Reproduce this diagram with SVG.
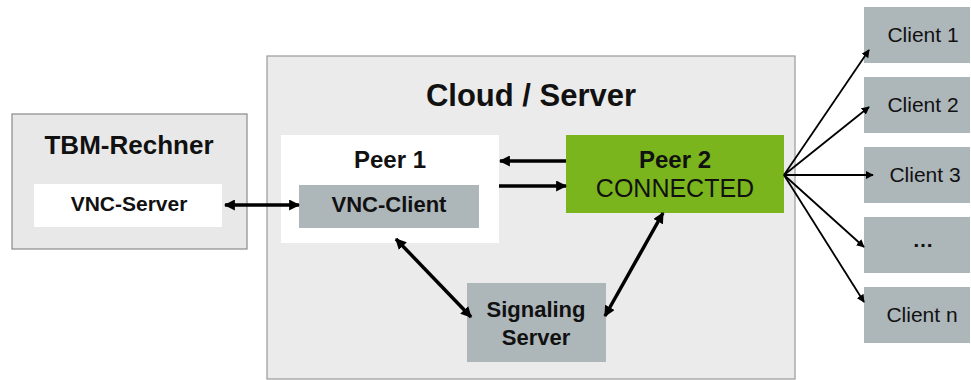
<svg xmlns="http://www.w3.org/2000/svg" width="971" height="380" viewBox="0 0 971 380">
<style>
text{font-family:"Liberation Sans",Arial,sans-serif;fill:#111;text-anchor:middle}
.b{font-weight:bold}
.gray{fill:#adb6b9}
.thick{stroke:#000;stroke-width:3.5;fill:none}
.thin{stroke:#000;stroke-width:1.8;fill:none}
.cl{font-size:21px}
</style>
<defs>
<marker id="ah" viewBox="0 0 10 10" refX="9" refY="5" markerWidth="11" markerHeight="11" markerUnits="userSpaceOnUse" orient="auto-start-reverse"><path d="M0,0L10,5L0,10z" fill="#000"/></marker>
<marker id="as" viewBox="0 0 10 10" refX="9" refY="5" markerWidth="8" markerHeight="8" markerUnits="userSpaceOnUse" orient="auto"><path d="M0,0L10,5L0,10z" fill="#000"/></marker>
</defs>
<g id="tbm">
<rect x="12" y="114" width="235" height="135" fill="#e8e8e8" stroke="#8a8a8a" stroke-width="1.2"/>
<text x="129" y="154" class="b" font-size="26">TBM-Rechner</text>
</g>
<g id="vnc-server">
<rect x="34" y="184" width="188" height="43" fill="#fff"/>
<text x="129" y="211" class="b" font-size="21">VNC-Server</text>
</g>
<g id="cloud">
<rect x="267" y="56" width="528" height="323" fill="#ebebeb" stroke="#999" stroke-width="1.2"/>
<text x="531" y="106" class="b" font-size="31">Cloud / Server</text>
</g>
<g id="peer1">
<rect x="281" y="135" width="218" height="108" fill="#fff"/>
<text x="390" y="168" class="b" font-size="24">Peer 1</text>
</g>
<g id="vnc-client">
<rect x="299" y="185" width="180" height="43" class="gray"/>
<text x="389" y="212" class="b" font-size="22">VNC-Client</text>
</g>
<g id="peer2">
<rect x="566" y="135" width="218" height="78" fill="#7ab51d"/>
<text x="675" y="168" class="b" font-size="24">Peer 2</text>
<text x="675" y="197" font-size="25">CONNECTED</text>
</g>
<g id="signaling">
<rect x="467" y="283" width="139" height="79" class="gray"/>
<text x="536" y="317" class="b" font-size="22">Signaling</text>
<text x="536" y="345" class="b" font-size="22">Server</text>
</g>
<g id="client1"><rect x="864" y="7" width="106" height="56" class="gray"/><text x="923" y="42" class="cl">Client 1</text></g>
<g id="client2"><rect x="864" y="77" width="106" height="56" class="gray"/><text x="923" y="112" class="cl">Client 2</text></g>
<g id="client3"><rect x="864" y="147" width="106" height="56" class="gray"/><text x="925" y="182" class="cl">Client 3</text></g>
<g id="clientdots"><rect x="864" y="217" width="106" height="56" class="gray"/><text x="923" y="247" class="cl b">…</text></g>
<g id="clientn"><rect x="864" y="287" width="106" height="56" class="gray"/><text x="922" y="322" class="cl">Client n</text></g>
<g id="connectors">
<line x1="225" y1="205" x2="299" y2="205" class="thick" marker-start="url(#ah)" marker-end="url(#ah)"/>
<line x1="566" y1="161" x2="500" y2="161" class="thick" marker-end="url(#ah)"/>
<line x1="499" y1="186" x2="566" y2="186" class="thick" marker-end="url(#ah)"/>
<line x1="396" y1="239" x2="471" y2="317" class="thick" marker-start="url(#ah)" marker-end="url(#ah)"/>
<line x1="663" y1="213" x2="605" y2="316" class="thick" marker-start="url(#ah)" marker-end="url(#ah)"/>
<line x1="784" y1="175" x2="869" y2="50" class="thin" marker-end="url(#as)"/>
<line x1="784" y1="175" x2="869" y2="107" class="thin" marker-end="url(#as)"/>
<line x1="784" y1="175" x2="873" y2="175" class="thin" marker-end="url(#as)"/>
<line x1="784" y1="175" x2="864" y2="247" class="thin" marker-end="url(#as)"/>
<line x1="784" y1="175" x2="864" y2="302" class="thin" marker-end="url(#as)"/>
</g>
</svg>
